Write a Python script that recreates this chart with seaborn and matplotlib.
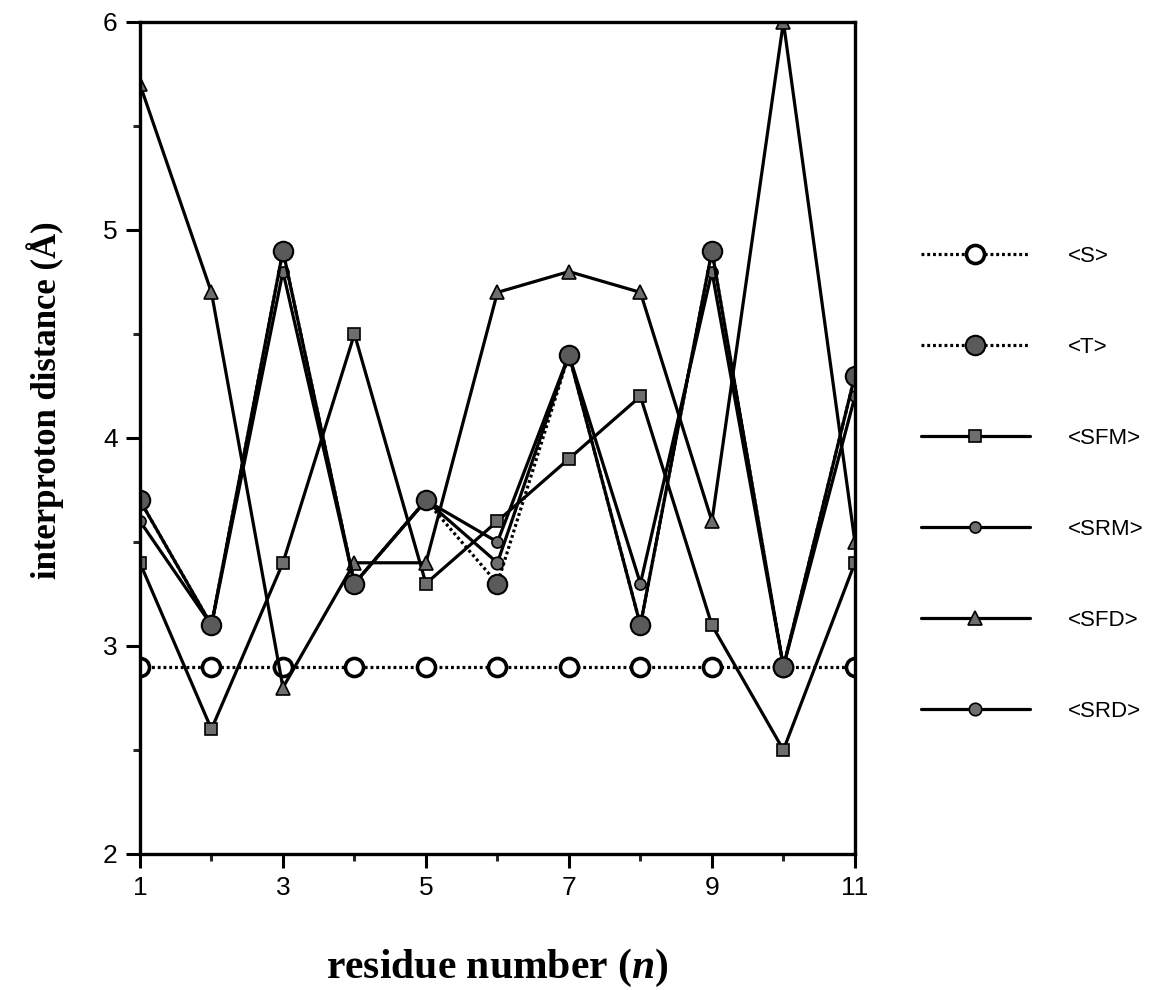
import matplotlib
matplotlib.use("Agg")
import matplotlib.pyplot as plt
from matplotlib.ticker import MultipleLocator, FixedLocator
import seaborn as sns
import pandas as pd

residue = [1, 2, 3, 4, 5, 6, 7, 8, 9, 10, 11]

dist_S = [2.9, 2.9, 2.9, 2.9, 2.9, 2.9, 2.9, 2.9, 2.9, 2.9, 2.9]
dist_T = [3.7, 3.1, 4.9, 3.3, 3.7, 3.3, 4.4, 3.1, 4.9, 2.9, 4.3]
dist_SFM = [3.4, 2.6, 3.4, 4.5, 3.3, 3.6, 3.9, 4.2, 3.1, 2.5, 3.4]
dist_SRM = [3.6, 3.1, 4.8, 3.3, 3.7, 3.5, 4.4, 3.3, 4.8, 2.9, 4.2]
dist_SFD = [5.7, 4.7, 2.8, 3.4, 3.4, 4.7, 4.8, 4.7, 3.6, 6.0, 3.5]
dist_SRD = [3.7, 3.1, 4.9, 3.3, 3.7, 3.4, 4.4, 3.1, 4.9, 2.9, 4.3]

labels = ["<S>", "<T>", "<SFM>", "<SRM>", "<SFD>", "<SRD>"]

sns.set_style("ticks")
plt.rcParams["font.family"] = ["Liberation Sans", "DejaVu Sans"]
plt.rcParams["text.color"] = "black"
plt.rcParams["axes.labelcolor"] = "black"
plt.rcParams["mathtext.fontset"] = "custom"
plt.rcParams["mathtext.it"] = "Liberation Serif:italic:bold"
plt.rcParams["mathtext.rm"] = "Liberation Serif:bold"

df = pd.DataFrame({
    "residue": residue,
    "<S>": dist_S,
    "<T>": dist_T,
    "<SFM>": dist_SFM,
    "<SRM>": dist_SRM,
    "<SFD>": dist_SFD,
    "<SRD>": dist_SRD,
})

fig = plt.figure(figsize=(11.5, 9.9), dpi=100)
ax = fig.add_axes([0.1217, 0.1374, 0.6217, 0.8404])

gray = "#6e6e6e"
dots = (0, (0.9, 0.9))
lw = 2.3

# draw order: plain series first, big circles of <T> on top
styles = {
    "<S>": dict(ls=dots, marker="o", ms=13, mfc="white", mec="black", mew=2.6),
    "<SFM>": dict(ls="-", marker="s", ms=9, mfc=gray, mec="black", mew=1.2),
    "<SFD>": dict(ls="-", marker="^", ms=10, mfc=gray, mec="black", mew=1.2),
    "<SRM>": dict(ls="-", marker="o", ms=8, mfc=gray, mec="black", mew=1.2),
    "<SRD>": dict(ls="-", marker="o", ms=9, mfc=gray, mec="black", mew=1.2),
    "<T>": dict(ls=dots, marker="o", ms=14, mfc="#5a5a5a", mec="black", mew=1.5),
}

handles = {}
for name, st in styles.items():
    sns.lineplot(data=df, x="residue", y=name, ax=ax, color="black", lw=lw,
                 label=name, legend=False, **st)
    handles[name] = ax.lines[-1]

ax.set_xlim(1, 11)
ax.set_ylim(2, 6)
ax.xaxis.set_major_locator(FixedLocator([1, 3, 5, 7, 9, 11]))
ax.xaxis.set_minor_locator(FixedLocator([2, 4, 6, 8, 10]))
ax.yaxis.set_major_locator(MultipleLocator(1))
ax.yaxis.set_minor_locator(MultipleLocator(0.5))

for side in ["left", "right", "top", "bottom"]:
    ax.spines[side].set_visible(True)
    ax.spines[side].set_linewidth(2.4)
    ax.spines[side].set_color("black")

ax.tick_params(which="major", direction="out", length=10, width=2.2,
               labelsize=19, pad=6, colors="black")
ax.tick_params(which="minor", direction="out", length=5, width=2.2)
ax.tick_params(axis="x", which="both", top=False)
ax.tick_params(axis="y", which="both", right=False)

ax.set_xlabel(r"residue number ($\mathit{n}$)", fontsize=30, fontweight="bold",
              family="Liberation Serif", labelpad=34)
ax.set_ylabel("interproton distance (Å)", fontsize=25, fontweight="bold",
              family="Liberation Serif")
ax.yaxis.set_label_coords(-0.106, 0.546)

leg = ax.legend([handles[k] for k in labels], labels, loc="upper left",
                bbox_to_anchor=(921 / 1150, 1 - 246 / 990),
                bbox_transform=fig.transFigure, frameon=False, numpoints=1,
                fontsize=16, handlelength=4.9, handletextpad=1.7,
                labelspacing=3.15, borderpad=0, borderaxespad=0)

plt.savefig("out.png", dpi=100)
